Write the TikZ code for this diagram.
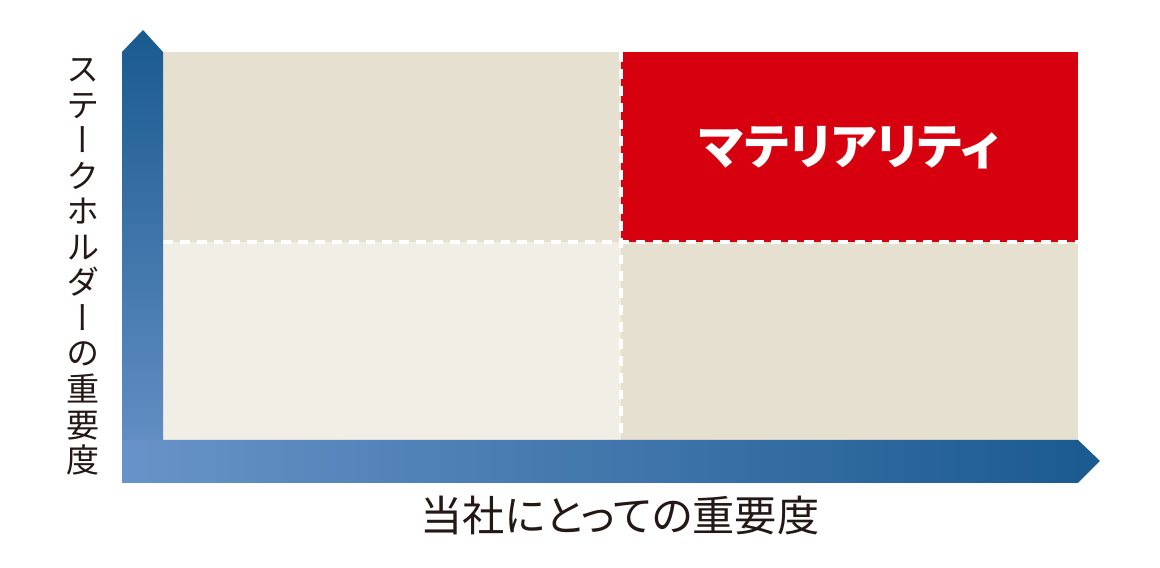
\documentclass[tikz,border=0pt]{standalone}
\usepackage{fontspec}
\newfontfamily\jpfont{Noto Sans CJK JP}[RawFeature=+palt]
\newfontfamily\jpvert{Noto Sans CJK JP}[RawFeature=+vert]
\usetikzlibrary{positioning}

\definecolor{axisdark}{HTML}{1A5A8F}
\definecolor{axislight}{HTML}{6893C8}
\definecolor{quadbeige}{HTML}{E5E0CF}
\definecolor{quadpale}{HTML}{F1EEE6}
\definecolor{matred}{HTML}{D7000F}
\definecolor{inkdark}{HTML}{231815}

\begin{document}
\begin{tikzpicture}[x=0.01cm,y=-0.01cm,
    divider/.style={draw=white,line width=1pt,dash pattern=on 2.8pt off 2pt},
    vlabel/.style={text=inkdark,align=center,inner sep=0pt,
      font=\jpvert\fontsize{9.4}{10.1}\selectfont},
    hlabel/.style={text=inkdark,inner sep=0pt,font=\jpfont\fontsize{12}{14}\selectfont},
    quadlabel/.style={text=white,inner sep=0pt,font=\jpfont\bfseries\fontsize{13.8}{16}\selectfont}]
  \useasboundingbox (0,0) rectangle (1160,568);

  % quadrants
  \fill[quadbeige] (163,52) rectangle (621,242);
  \fill[matred] (621,52) rectangle (1078,242);
  \fill[quadpale] (163,242) rectangle (621,440);
  \fill[quadbeige] (621,242) rectangle (1078,440);
  \draw[divider] (621,52) -- (621,440);
  \draw[divider] (163,242) -- (1078,242);

  % axes
  \shade[top color=axisdark,bottom color=axislight]
    (122,483) -- (122,52) -- (143,30) -- (163,52) -- (163,483) -- cycle;
  \shade[left color=axislight,right color=axisdark]
    (122,440) -- (1078,440) -- (1100,461) -- (1078,483) -- (122,483) -- cycle;

  \node[quadlabel] (materiality) at (849,148) {マテリアリティ};
  \node[hlabel] (company) at (620,516) {当社にとっての重要度};
  \node[vlabel] (stakeholder) at (83,267)
    {ス\\テ\\ー\\ク\\ホ\\ル\\ダ\\ー\\の\\重\\要\\度};
\end{tikzpicture}
\end{document}
